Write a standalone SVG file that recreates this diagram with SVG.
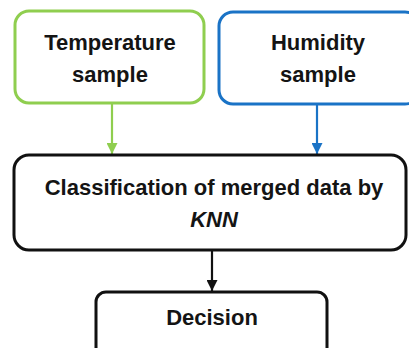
<svg xmlns="http://www.w3.org/2000/svg" width="409" height="348" viewBox="0 0 409 348">
  <defs>
    <style>
      .box { fill: #ffffff; stroke-width: 3; }
      .lbl { font-family: "Liberation Sans", Arial, sans-serif; font-weight: bold; font-size: 22px; fill: #141414; text-anchor: middle; }
      .conn { fill: none; stroke-width: 2.2; }
    </style>
    <marker id="arrGreen" viewBox="0 0 10 10" refX="10" refY="5" markerWidth="5" markerHeight="5" orient="auto" markerUnits="strokeWidth">
      <path d="M0,0 L10,5 L0,10 z" fill="#8fce4f"/>
    </marker>
    <marker id="arrBlue" viewBox="0 0 10 10" refX="10" refY="5" markerWidth="5" markerHeight="5" orient="auto" markerUnits="strokeWidth">
      <path d="M0,0 L10,5 L0,10 z" fill="#1a73c6"/>
    </marker>
    <marker id="arrBlack" viewBox="0 0 10 10" refX="10" refY="5" markerWidth="5" markerHeight="5" orient="auto" markerUnits="strokeWidth">
      <path d="M0,0 L10,5 L0,10 z" fill="#111111"/>
    </marker>
  </defs>

  <rect width="409" height="348" fill="#ffffff"/>

  <g id="connectors">
    <line class="conn" x1="112" y1="104" x2="112" y2="154" stroke="#8fce4f" marker-end="url(#arrGreen)"/>
    <line class="conn" x1="317" y1="105" x2="317" y2="154" stroke="#1a73c6" marker-end="url(#arrBlue)"/>
    <line class="conn" x1="212" y1="251" x2="212" y2="291" stroke="#111111" marker-end="url(#arrBlack)"/>
  </g>

  <g id="temperature">
    <rect class="box" x="15" y="11" width="189" height="92" rx="14" stroke="#8fce4f"/>
    <text class="lbl" x="110" y="50">Temperature</text>
    <text class="lbl" x="110" y="82">sample</text>
  </g>

  <g id="humidity">
    <rect class="box" x="219" y="12" width="200" height="92" rx="14" stroke="#1a73c6"/>
    <text class="lbl" x="318" y="50">Humidity</text>
    <text class="lbl" x="318" y="82">sample</text>
  </g>

  <g id="classification">
    <rect class="box" x="14" y="155" width="392" height="95" rx="15" stroke="#111111"/>
    <text class="lbl" x="214" y="195">Classification of merged data by</text>
    <text class="lbl" x="214" y="227" font-style="italic">KNN</text>
  </g>

  <g id="decision">
    <rect class="box" x="96" y="292" width="231" height="70" rx="10" stroke="#111111"/>
    <text class="lbl" x="212" y="325">Decision</text>
  </g>
</svg>
